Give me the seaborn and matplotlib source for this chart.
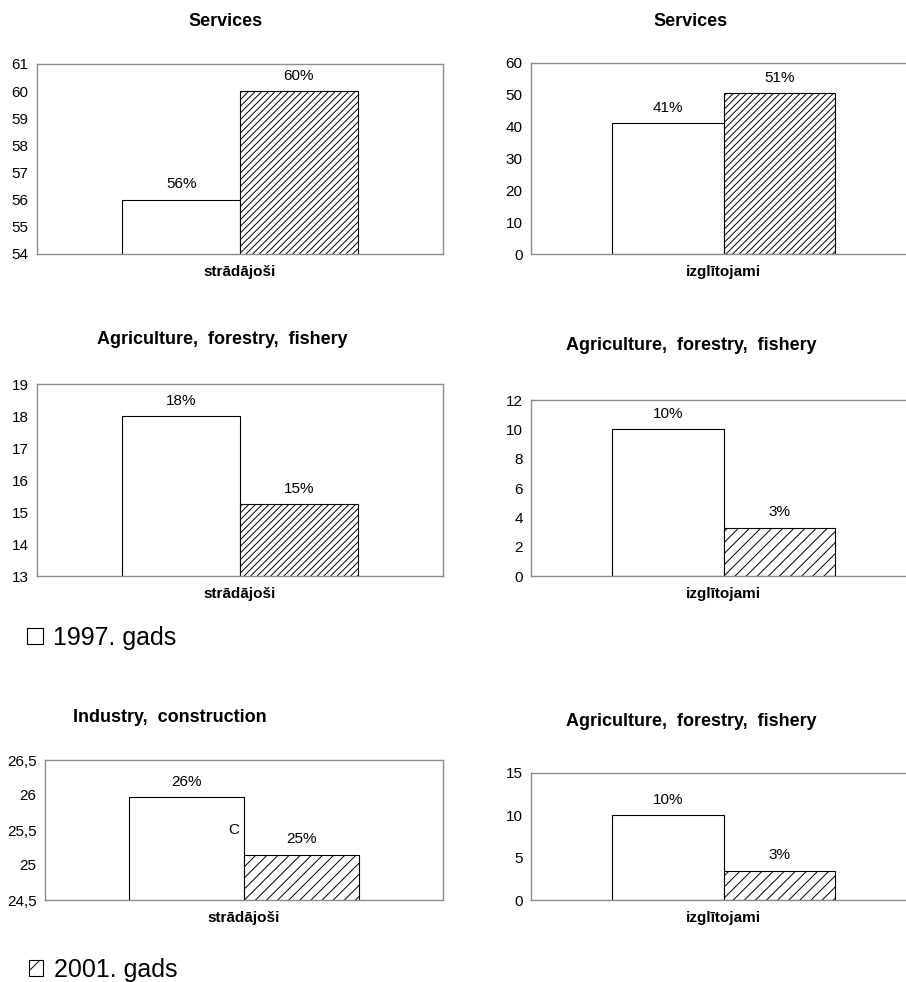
import matplotlib
matplotlib.use("Agg")

import matplotlib.pyplot as plt
import pandas as pd
import seaborn as sns
from matplotlib.patches import Patch
from matplotlib.ticker import FuncFormatter, MultipleLocator

# --- dati ---
gadi = ["1997. gads", "2001. gads"]
virsraksti = [
    "Services",
    "Services",
    "Agriculture,  forestry,  fishery",
    "Agriculture,  forestry,  fishery",
    "Industry,  construction",
    "Agriculture,  forestry,  fishery",
]
grupas = ["strādājoši", "izglītojami", "strādājoši", "izglītojami", "strādājoši", "izglītojami"]
vertibas_1997 = [56, 41, 18, 10, 25.97, 10]
vertibas_2001 = [60, 50.6, 15.25, 3.3, 25.15, 3.45]
y_min = [54, 0, 13, 0, 24.5, 0]
y_max = [61, 60, 19, 12, 26.5, 15]
y_solis = [1, 10, 1, 2, 0.5, 5]

# --- izkārtojums (pikseļos: kreisā, labā, augša, apakša) ---
W, H = 906, 982
robezas = [
    (37, 443, 64, 254),
    (531, 916, 63, 254),
    (37, 443, 384, 576),
    (531, 916, 400, 576),
    (45, 443, 760, 900),
    (531, 916, 773, 900),
]
virsraksta_vietas = [(226, 22), (691, 22), (222, 340), (691, 345), (170, 718), (691, 722)]
svitrojumi = ["/////", "/////", "/////", "///", "///", "///"]


def taisnsturis(kreisa, laba, augsa, apaksa):
    return [kreisa / W, 1 - apaksa / H, (laba - kreisa) / W, (apaksa - augsa) / H]


def komats(v, _pos):
    return f"{v:g}".replace(".", ",")


sns.set_theme(style="white")
plt.rcParams["font.family"] = ["Liberation Sans", "DejaVu Sans"]
plt.rcParams["hatch.linewidth"] = 0.7
plt.rcParams["text.color"] = "black"
plt.rcParams["axes.labelcolor"] = "black"
plt.rcParams["xtick.color"] = "black"
plt.rcParams["ytick.color"] = "black"

fig = plt.figure(figsize=(W / 100, H / 100), dpi=100)

for i in range(6):
    ax = fig.add_axes(taisnsturis(*robezas[i]))
    df = pd.DataFrame(
        {
            "grupa": [grupas[i]] * 2,
            "gads": gadi,
            "vertiba": [vertibas_1997[i], vertibas_2001[i]],
        }
    )
    sns.barplot(
        data=df,
        x="grupa",
        y="vertiba",
        hue="gads",
        palette=["white", "white"],
        saturation=1,
        edgecolor="black",
        linewidth=0.8,
        width=0.58,
        legend=False,
        ax=ax,
    )
    for stabins in ax.containers[1]:
        stabins.set_hatch(svitrojumi[i])
    for konteiners in ax.containers:
        ax.bar_label(konteiners, fmt="{:.0f}%", padding=6, fontsize=11, color="black")

    ax.set_xlim(-0.5, 0.5)
    ax.set_ylim(y_min[i], y_max[i])
    ax.yaxis.set_major_locator(MultipleLocator(y_solis[i]))
    ax.yaxis.set_major_formatter(FuncFormatter(komats))
    ax.set_xlabel("")
    ax.set_ylabel("")
    ax.tick_params(axis="y", length=0, pad=6, labelsize=11, labelcolor="black")
    ax.tick_params(axis="x", length=0, pad=8, labelsize=11, labelcolor="black")
    for lbl in ax.get_xticklabels():
        lbl.set_fontweight("bold")
    for mala in ax.spines.values():
        mala.set_visible(True)
        mala.set_color("#8c8c8c")
        mala.set_linewidth(1.0)

    x, y = virsraksta_vietas[i]
    fig.text(x / W, 1 - y / H, virsraksti[i], ha="center", va="center",
             fontsize=13, fontweight="bold", color="black")

    if i == 4:
        ax.text(0.474, 0.5, "C", transform=ax.transAxes, ha="center",
                va="center", fontsize=11, color="black")

# leģendas ieraksti
fig.legend(
    handles=[Patch(facecolor="white", edgecolor="black", linewidth=0.8)],
    labels=[gadi[0]],
    loc="center left",
    bbox_to_anchor=(27 / W, 1 - 638 / H),
    frameon=False,
    fontsize=18,
    handlelength=0.62,
    handleheight=0.62,
    handletextpad=0.42,
    borderpad=0,
    borderaxespad=0,
    labelcolor="black",
)
fig.legend(
    handles=[Patch(facecolor="white", edgecolor="black", linewidth=0.8, hatch="/")],
    labels=[gadi[1]],
    loc="center left",
    bbox_to_anchor=(29 / W, 1 - 970 / H),
    frameon=False,
    fontsize=18,
    handlelength=0.57,
    handleheight=0.57,
    handletextpad=0.42,
    borderpad=0,
    borderaxespad=0,
    labelcolor="black",
)

fig.savefig("out.png", dpi=100)
